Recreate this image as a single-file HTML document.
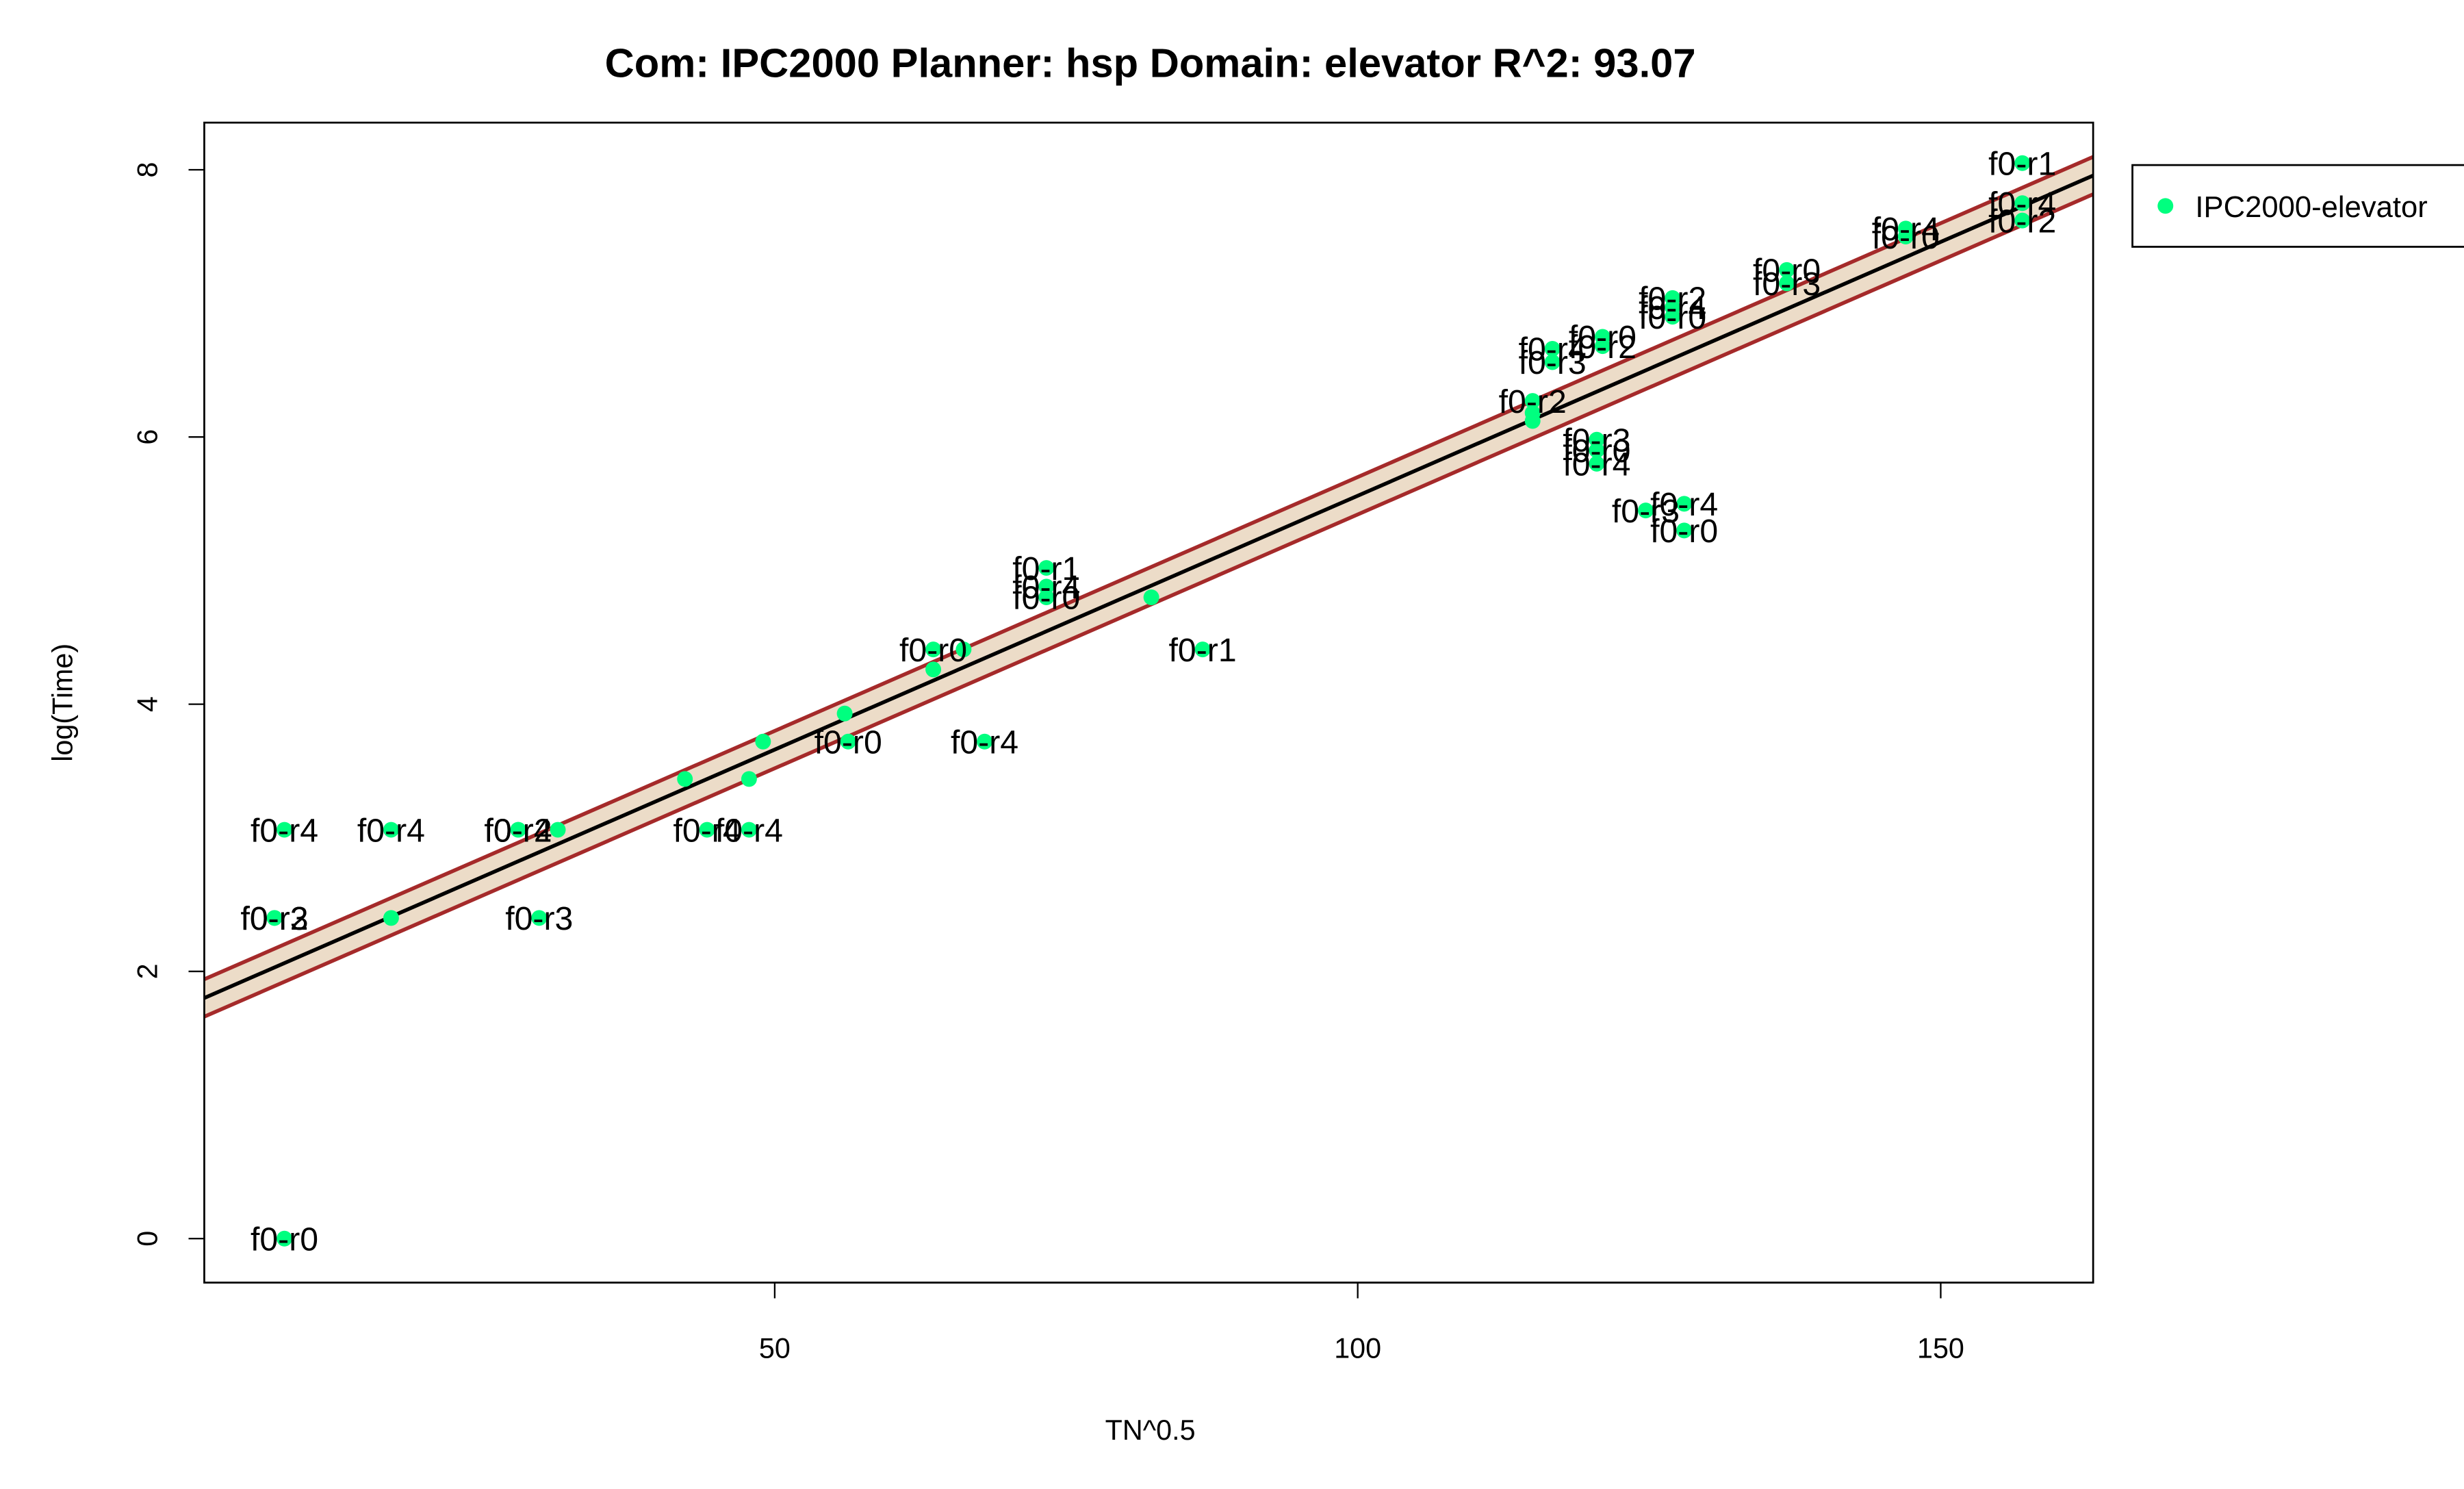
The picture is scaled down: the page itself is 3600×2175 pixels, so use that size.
<!DOCTYPE html>
<html><head><meta charset="utf-8"><style>
html,body{margin:0;padding:0;background:#fff;}
svg{display:block;font-family:"Liberation Sans",sans-serif;}
</style></head><body>
<svg id="chart" width="3600" height="2175" viewBox="0 0 1568 947.3" xmlns="http://www.w3.org/2000/svg">
<rect width="1568" height="947.3" fill="#fff"/>
<text x="732" y="49" text-anchor="middle" font-size="26" font-weight="bold">Com: IPC2000 Planner: hsp Domain: elevator R^2: 93.07</text>
<defs><clipPath id="pc"><rect x="130" y="78" width="1202" height="738"/></clipPath></defs>
<g id="band" clip-path="url(#pc)"></g>
<g id="marks" clip-path="url(#pc)"></g>
<g id="labels"></g>
<rect x="130" y="78" width="1202" height="738" fill="none" stroke="#000" stroke-width="1.2"/>
<g id="axes"></g>
<text x="732" y="916" text-anchor="middle" font-size="18">TN^0.5</text>
<text transform="translate(46,447) rotate(-90)" text-anchor="middle" font-size="18">log(Time)</text>
<g>
<rect x="1357" y="105" width="215" height="52" fill="#fff" stroke="#000" stroke-width="1.2"/>
<circle cx="1378" cy="131" r="5" fill="#00ff7f"/>
<text x="1397" y="138" font-size="19">IPC2000-elevator</text>
</g>
<script>
const xs=[7.95,7.95,7.1,7.1,17.1,17.1,28,28,31.4,29.8,42.3,44.2,47.8,47.8,49,56,56.3,63.6,63.6,66.2,68,73.3,73.3,73.3,82.3,86.7,115,115,115,116.7,116.7,121,121,120.5,120.5,120.5,127,127,127,128,128,124.7,136.8,136.8,147,147,157,157,157];
const ys=[0,3.06,2.4,2.4,3.06,2.4,3.06,3.06,3.06,2.4,3.44,3.06,3.44,3.06,3.72,3.93,3.72,4.26,4.41,4.41,3.72,5.02,4.88,4.8,4.8,4.41,6.27,6.18,6.12,6.66,6.56,6.75,6.68,5.98,5.9,5.8,7.04,6.97,6.9,5.5,5.3,5.45,7.25,7.15,7.56,7.5,8.05,7.75,7.62];
const labs=["f0-r0","f0-r4","f0-r2","f0-r3","f0-r4","","f0-r4","f0-r2","","f0-r3","","f0-r4","","f0-r4","","","f0-r0","","f0-r0","","f0-r4","f0-r1","f0-r4","f0-r0","","f0-r1","f0-r2","","","f0-r4","f0-r3","f0-r0","f0-r2","f0-r3","f0-r0","f0-r4","f0-r2","f0-r4","f0-r0","f0-r4","f0-r0","f0-r3","f0-r0","f0-r3","f0-r4","f0-r0","f0-r1","f0-r4","f0-r2"];
const xTicks=[50,100,150];
const yTicks=[0,2,4,6,8];
const fit=[1.76,0.038];
const bandHalf=0.14;
const X=v=>122+v*7.42, Y=v=>788-v*85;
const ns="http://www.w3.org/2000/svg";
function mk(t,a,p){const e=document.createElementNS(ns,t);for(const k in a)e.setAttribute(k,a[k]);p.appendChild(e);return e;}
const band=document.getElementById('band'),marks=document.getElementById('marks'),labsG=document.getElementById('labels'),axes=document.getElementById('axes');
const x0=0,x1=165,f=v=>fit[0]+fit[1]*v;
const poly=mk('polygon',{points:`${X(x0)},${Y(f(x0)+bandHalf)} ${X(x1)},${Y(f(x1)+bandHalf)} ${X(x1)},${Y(f(x1)-bandHalf)} ${X(x0)},${Y(f(x0)-bandHalf)}`,fill:'#ecdcc8'},band);


[bandHalf,-bandHalf].forEach(d=>{const l=mk('line',{x1:X(x0),y1:Y(f(x0)+d),x2:X(x1),y2:Y(f(x1)+d),stroke:'#a52a2a','stroke-width':2.4},band);

});
const fl=mk('line',{x1:X(x0),y1:Y(f(x0)),x2:X(x1),y2:Y(f(x1)),stroke:'#000','stroke-width':2.4},band);


xs.forEach((v,i)=>{const c=mk('circle',{cx:X(v),cy:Y(ys[i]),r:5,fill:'#00ff7f'},marks);


if(labs[i]){const t=mk('text',{x:X(v),y:Y(ys[i])+7.5,'text-anchor':'middle','font-size':21},labsG);t.textContent=labs[i];

}});
xTicks.forEach(v=>{mk('line',{x1:X(v),y1:816,x2:X(v),y2:826,stroke:'#000'},axes);
const t=mk('text',{x:X(v),y:864,'text-anchor':'middle','font-size':18},axes);t.textContent=v;

});
mk('line',{x1:X(50),y1:816,x2:X(150),y2:816,stroke:'#000'},axes);
yTicks.forEach(v=>{mk('line',{x1:120,y1:Y(v),x2:130,y2:Y(v),stroke:'#000'},axes);
const t=mk('text',{transform:`translate(100,${Y(v)}) rotate(-90)`,'text-anchor':'middle','font-size':18},axes);t.textContent=v;

});
</script>
</svg>
</body></html>
